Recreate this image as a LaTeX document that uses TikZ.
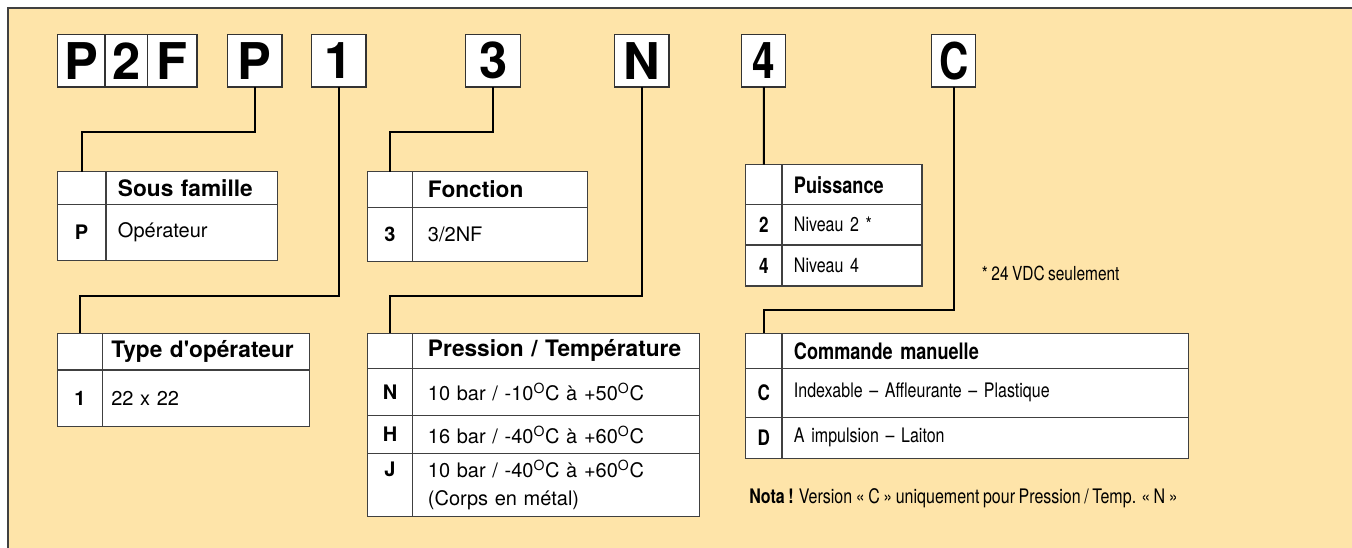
\documentclass[tikz,border=0pt]{standalone}
\usepackage{fontspec}
\setmainfont{TeX Gyre Heros}[WordSpace=0.8]
\newfontfamily\narrowfont{TeX Gyre Heros}[FakeStretch=0.8, WordSpace=0.8]
\usetikzlibrary{positioning}
\definecolor{fond}{RGB}{254,228,169}

\tikzset{
  codebox/.style={draw=black!80, line width=1pt, fill=white, anchor=north west, inner sep=0pt, outer sep=0pt, minimum height=39.4pt, font=\bfseries\fontsize{38}{38}\selectfont},
  link/.style={line width=1.5pt},
  cell/.style={draw=black!75, line width=0.8pt, fill=white, anchor=north west, inner sep=0pt, outer sep=0pt},
  keycell/.style={cell, align=center, font=\bfseries\fontsize{15}{20.8}\selectfont},
  headcell/.style={cell, align=left, font=\bfseries\fontsize{17}{20}\selectfont},
  valcell/.style={cell, align=left, font=\fontsize{15}{20.8}\selectfont},
  rkeycell/.style={keycell, font=\narrowfont\bfseries\fontsize{16}{18}\selectfont},
  rheadcell/.style={headcell, font=\narrowfont\bfseries\fontsize{17}{20}\selectfont},
  rvalcell/.style={valcell, font=\narrowfont\fontsize{15}{18}\selectfont},
}

\begin{document}
\begin{tikzpicture}[x=0.75pt,y=-0.75pt]
\path[use as bounding box, fill=white] (0,0) rectangle (1352,547);
\draw[fill=fond, draw=black!75, line width=1pt] (8,8) rectangle (1360,555);

% code
\node[codebox, minimum width=35.6pt] (cP1) at (57.5,34.5) {P};
\node[codebox, minimum width=31.9pt, right=0pt of cP1] (c2) {2};
\node[codebox, minimum width=37.1pt, right=0pt of c2] (cF) {F};
\node[codebox, minimum width=40.9pt] (cP2) at (227.5,34.5) {P};
\node[codebox, minimum width=40.9pt] (c1) at (311.5,34.5) {1};
\node[codebox, minimum width=41.2pt] (c3) at (465.7,34.5) {3};
\node[codebox, minimum width=41pt] (cN) at (614.3,34.5) {N};
\node[codebox, minimum width=33pt, font=\narrowfont\bfseries\fontsize{38}{38}\selectfont] (c4) at (741.8,34.5) {4};
\node[codebox, minimum width=33pt, font=\narrowfont\bfseries\fontsize{38}{38}\selectfont] (cC) at (931.7,34.5) {C};

% Sous famille
\node[keycell, minimum width=36.5pt, minimum height=24.5pt] (sfk) at (57.3,171.7) {};
\node[headcell, text width=110.8pt, inner xsep=9pt, minimum height=24.5pt, right=0pt of sfk] (sfh) {Sous famille};
\node[keycell, minimum width=36.5pt, minimum height=41.8pt, below=0pt of sfk] (sfk1) {P};
\node[valcell, text width=110.8pt, inner xsep=9pt, minimum height=41.8pt, right=0pt of sfk1] (sfv1) {Opérateur};

% Type d'operateur
\node[keycell, minimum width=34pt, minimum height=27.5pt] (tok) at (57.3,333.3) {};
\node[headcell, text width=142pt, inner xsep=6.5pt, minimum height=27.5pt, right=0pt of tok] (toh) {Type d\textquotesingle opérateur};
\node[keycell, minimum width=34pt, minimum height=42.5pt, below=0pt of tok] (tok1) {1};
\node[valcell, text width=142pt, inner xsep=6.5pt, minimum height=42.5pt, right=0pt of tok1] (tov1) {22 x 22};

% Fonction
\node[keycell, minimum width=34pt, minimum height=26.7pt] (fok) at (367.3,171.7) {};
\node[headcell, text width=108.25pt, inner xsep=11.5pt, minimum height=26.7pt, right=0pt of fok] (foh) {Fonction};
\node[keycell, minimum width=34pt, minimum height=40.8pt, below=0pt of fok] (fok1) {3};
\node[valcell, text width=108.25pt, inner xsep=11.5pt, minimum height=40.8pt, right=0pt of fok1] (fov1) {3/2NF};

% Pression / Temperature
\node[keycell, minimum width=34pt, minimum height=26.25pt] (prk) at (367.3,333.3) {};
\node[headcell, text width=192pt, inner xsep=11.5pt, minimum height=26.25pt, right=0pt of prk] (prh) {Pression / Température};
\node[keycell, minimum width=34pt, minimum height=35.55pt, below=0pt of prk] (prk1) {N};
\node[valcell, text width=192pt, inner xsep=11.5pt, minimum height=35.55pt, right=0pt of prk1] (prv1) {10 bar / -10\textsuperscript{O}C à +50\textsuperscript{O}C};
\node[keycell, minimum width=34pt, minimum height=28.2pt, below=0pt of prk1] (prk2) {H};
\node[valcell, text width=192pt, inner xsep=11.5pt, minimum height=28.2pt, right=0pt of prk2] (prv2) {16 bar / -40\textsuperscript{O}C à +60\textsuperscript{O}C};
\node[keycell, minimum width=34pt, minimum height=47.55pt, below=0pt of prk2] (prk3) {J\\\phantom{(}};
\node[valcell, text width=192pt, inner xsep=11.5pt, minimum height=47.55pt, right=0pt of prk3] (prv3) {10 bar / -40\textsuperscript{O}C à +60\textsuperscript{O}C\\(Corps en métal)};

% Puissance
\node[rkeycell, minimum width=27.2pt, minimum height=30pt] (puk) at (745.7,164.7) {};
\node[rheadcell, text width=87pt, inner xsep=9pt, minimum height=30pt, right=0pt of puk] (puh) {Puissance};
\node[rkeycell, minimum width=27.2pt, minimum height=30.2pt, below=0pt of puk] (puk1) {2};
\node[rvalcell, text width=87pt, inner xsep=9pt, minimum height=30.2pt, right=0pt of puk1] (puv1) {Niveau 2 *};
\node[rkeycell, minimum width=27.2pt, minimum height=30.75pt, below=0pt of puk1] (puk2) {4};
\node[rvalcell, text width=87pt, inner xsep=9pt, minimum height=30.75pt, right=0pt of puk2] (puv2) {Niveau 4};

% Commande manuelle
\node[rkeycell, minimum width=27.2pt, minimum height=26.25pt] (cmk) at (745.7,333.3) {};
\node[rheadcell, text width=287pt, inner xsep=9pt, minimum height=26.25pt, right=0pt of cmk] (cmh) {Commande manuelle};
\node[rkeycell, minimum width=27.2pt, minimum height=36.75pt, below=0pt of cmk] (cmk1) {C};
\node[rvalcell, text width=287pt, inner xsep=9pt, minimum height=36.75pt, right=0pt of cmk1] (cmv1) {Indexable – Affleurante – Plastique};
\node[rkeycell, minimum width=27.2pt, minimum height=30.75pt, below=0pt of cmk1] (cmk2) {D};
\node[rvalcell, text width=287pt, inner xsep=9pt, minimum height=30.75pt, right=0pt of cmk2] (cmv2) {A impulsion – Laiton};

% notes
\node[anchor=west, inner sep=0pt, font=\narrowfont\fontsize{14.5}{16}\selectfont] (vdc) at (981.7,273.3) {* 24 VDC seulement};
\node[anchor=west, inner sep=0pt, font=\narrowfont\fontsize{15}{18}\selectfont] (nota) at (749,498.3) {\textbf{Nota !} Version « C » uniquement pour Pression / Temp. « N »};

% links
\draw[link] (cP2.south) -- ++(0,45) -| (sfk.north);
\draw[link] (c1.south) -- ++(0,209) -| (tok.north);
\draw[link] (c3.south) -- ++(0,45) -| (fok.north);
\draw[link] (cN.south) -- ++(0,209) -| (prk.north);
\draw[link] (c4.south) -- (puk.north);
\draw[link] (cC.south) -- ++(0,223) -| (cmk.north);
\end{tikzpicture}
\end{document}
